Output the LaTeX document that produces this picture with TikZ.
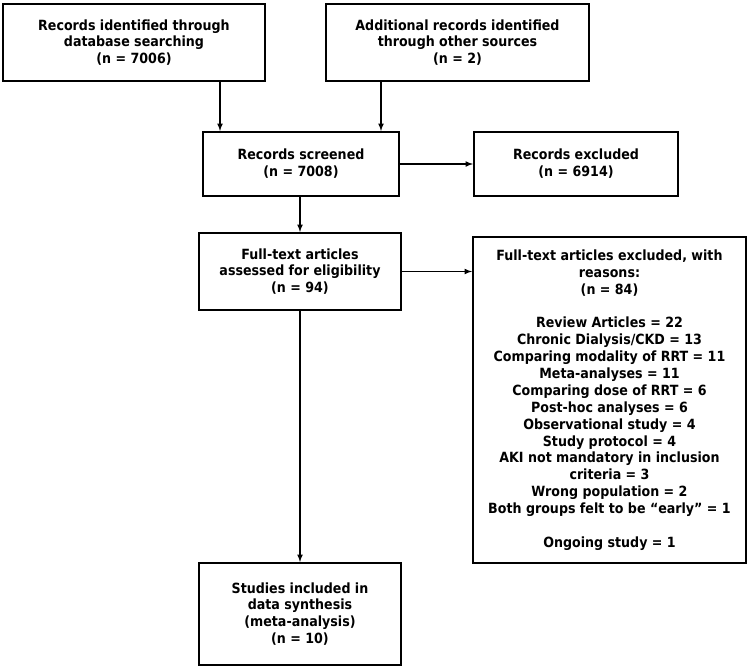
\documentclass[tikz,border=0pt]{standalone}
\usepackage{fontspec}
\setmainfont{DejaVu Sans Condensed}
\usepackage{tikz}
\tikzset{
  font={\fontsize{12pt}{14.4pt}\selectfont\bfseries}}

\begin{document}
\begin{tikzpicture}[x=0.3mm,y=-0.3mm]
\tikzstyle{every node}+=[inner sep=0pt]
\tikzstyle{box}=[draw=black, line width=1.6pt, align=center]
\tikzstyle{arrow}=[black, line width=1.2pt, -latex]
\useasboundingbox (0,0) rectangle (749,670);
\node [box, minimum width=262*0.3mm, minimum height=77*0.3mm] (identified) at (134,42.5)
  {Records identified through\\database searching\\(n = 7006)};
\node [box, minimum width=263*0.3mm, minimum height=77*0.3mm] (additional) at (457.5,42.5)
  {Additional records identified\\through other sources\\(n = 2)};
\node [box, minimum width=196*0.3mm, minimum height=64*0.3mm] (screened) at (301,164)
  {Records screened\\(n = 7008)};
\node [box, minimum width=204*0.3mm, minimum height=64*0.3mm] (excluded) at (576,164)
  {Records excluded\\(n = 6914)};
\node [box, minimum width=202*0.3mm, minimum height=77*0.3mm] (fulltext) at (300,271.5)
  {Full-text articles\\assessed for eligibility\\(n = 94)};
\node [box, minimum width=273*0.3mm, minimum height=326*0.3mm] (reasons) at (609.5,400)
  {Full-text articles excluded, with\\reasons:\\(n = 84)\\[14.4pt]
   Review Articles = 22\\Chronic Dialysis/CKD = 13\\Comparing modality of RRT = 11\\
   Meta-analyses = 11\\Comparing dose of RRT = 6\\Post-hoc analyses = 6\\
   Observational study = 4\\Study protocol = 4\\AKI not mandatory in inclusion\\
   criteria = 3\\Wrong population = 2\\Both groups felt to be “early” = 1\\[14.4pt]
   Ongoing study = 1};
\node [box, minimum width=202*0.3mm, minimum height=102*0.3mm] (included) at (300,614)
  {Studies included in\\data synthesis\\(meta-analysis)\\(n = 10)};
\draw [arrow] ([xshift=25.8mm]identified.south) -- ([xshift=25.8mm]identified.south |- screened.north);
\draw [arrow] ([xshift=-22.95mm]additional.south) -- ([xshift=-22.95mm]additional.south |- screened.north);
\draw [arrow] (screened.east) -- (screened.east -| excluded.west);
\draw [arrow] (screened.south -| fulltext.north) -- (fulltext.north);
\draw [arrow] (fulltext.east) -- (fulltext.east -| reasons.west);
\draw [arrow] (fulltext.south) -- (included.north);
\end{tikzpicture}
\end{document}
